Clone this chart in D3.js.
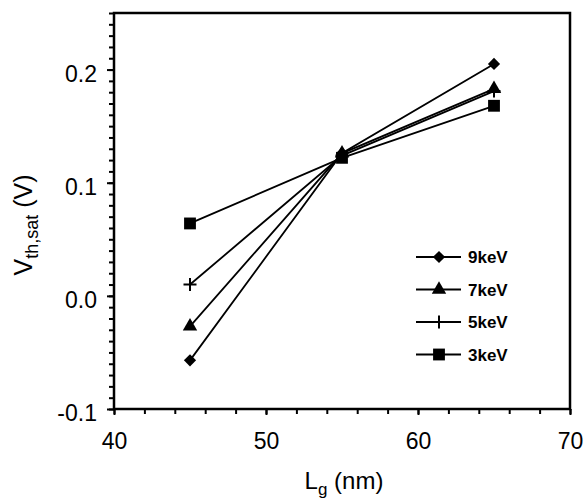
<!DOCTYPE html>
<html>
<head>
<meta charset="utf-8">
<script src="https://cdn.jsdelivr.net/npm/d3@7"></script>
<style>
  body { margin: 0; background: #fff; }
  text { font-family: "Liberation Sans", Arial, sans-serif; }
</style>
</head>
<body>
<svg width="584" height="502"></svg>
<script>
// gate lengths (nm) and threshold voltages per implant energy
const lengths = [45, 55, 65];
const series = ['9keV', '7keV', '5keV', '3keV'];
const vth9 = [-0.057, 0.126, 0.205];
const vth7 = [-0.027, 0.126, 0.183];
const vth5 = [0.010, 0.124, 0.181];
const vth3 = [0.064, 0.122, 0.168];
const yTicks = [-0.1, 0.0, 0.1, 0.2];
const xTicks = [40, 50, 60, 70];

const values = [vth9, vth7, vth5, vth3];
const symbols = [d3.symbolDiamond2, d3.symbolTriangle, 'plus', d3.symbolSquare];
const symSize = [95, 90, 0, 140];

const svg = d3.select('svg');
const mLeft = 114, mRight = 570, mTop = 13, mBottom = 409;

const x = d3.scaleLinear().domain([40, 70]).range([mLeft, mRight]);
const y = d3.scaleLinear().domain([-0.1, 0.25]).range([mBottom, mTop]);

const fmtY = d => d.toFixed(1);  // keep a plain hyphen for negatives

// minor ticks
svg.append('g').attr('transform', `translate(${mLeft},0)`)
  .call(d3.axisLeft(y).tickValues(d3.range(-10, 26).map(v => v / 100)).tickSize(5).tickFormat(''))
  .call(g => g.select('.domain').remove())
  .call(g => g.selectAll('line').attr('stroke-width', 2));
svg.append('g').attr('transform', `translate(0,${mBottom})`)
  .call(d3.axisBottom(x).tickValues(d3.range(40, 71, 2)).tickSize(5).tickFormat(''))
  .call(g => g.select('.domain').remove())
  .call(g => g.selectAll('line').attr('stroke-width', 2));

// major ticks + labels
svg.append('g').attr('transform', `translate(${mLeft},0)`)
  .call(d3.axisLeft(y).tickValues(yTicks).tickSize(7).tickPadding(10).tickFormat(fmtY))
  .call(g => g.select('.domain').remove())
  .call(g => g.selectAll('line').attr('stroke-width', 2))
  .call(g => g.selectAll('text').attr('font-size', 23).attr('fill', '#000').attr('dy', '0.5em'));
svg.append('g').attr('transform', `translate(0,${mBottom})`)
  .call(d3.axisBottom(x).tickValues(xTicks).tickSize(6).tickPadding(18).tickFormat(d3.format('d')))
  .call(g => g.select('.domain').remove())
  .call(g => g.selectAll('line').attr('stroke-width', 2))
  .call(g => g.selectAll('text').attr('font-size', 23).attr('fill', '#000'));

// frame
svg.append('rect')
  .attr('x', mLeft).attr('y', mTop)
  .attr('width', mRight - mLeft).attr('height', mBottom - mTop)
  .attr('fill', 'none').attr('stroke', '#000').attr('stroke-width', 2.5);

// axis titles
const yt = svg.append('text')
  .attr('transform', `translate(32,225) rotate(-90)`)
  .attr('text-anchor', 'middle').attr('font-size', 25);
yt.append('tspan').text('V');
yt.append('tspan').attr('font-size', 18).attr('dy', 6).text('th,sat');
yt.append('tspan').attr('dy', -6).text(' (V)');

const xt = svg.append('text')
  .attr('x', (mLeft + mRight) / 2 + 2).attr('y', 489)
  .attr('text-anchor', 'middle').attr('font-size', 24);
xt.append('tspan').text('L');
xt.append('tspan').attr('font-size', 17).attr('dy', 6).text('g');
xt.append('tspan').attr('dy', -6).text(' (nm)');

function drawMarker(g, i, cx, cy) {
  if (symbols[i] === 'plus') {
    g.append('path')
      .attr('d', `M${cx - 6.5},${cy}H${cx + 6.5}M${cx},${cy - 6.5}V${cy + 6.5}`)
      .attr('stroke', '#000').attr('stroke-width', 2);
  } else {
    g.append('path')
      .attr('d', d3.symbol().type(symbols[i]).size(symSize[i])())
      .attr('transform', `translate(${cx},${cy})`)
      .attr('fill', '#000');
  }
}

const line = d3.line().x((d, j) => x(lengths[j])).y(d => y(d));

series.forEach((s, i) => {
  const g = svg.append('g');
  g.append('path').datum(values[i]).attr('d', line)
    .attr('fill', 'none').attr('stroke', '#000').attr('stroke-width', 1.8);
  values[i].forEach((v, j) => drawMarker(g, i, x(lengths[j]), y(v)));
});

// legend
const legend = svg.append('g');
series.forEach((s, i) => {
  const ly = 257 + i * 32.5;
  legend.append('line').attr('x1', 416).attr('x2', 461).attr('y1', ly).attr('y2', ly)
    .attr('stroke', '#000').attr('stroke-width', 1.8);
  drawMarker(legend, i, 439, ly);
  legend.append('text').attr('x', 468).attr('y', ly + 6)
    .attr('font-size', 17).attr('font-weight', 'bold').text(s);
});
</script>
</body>
</html>
